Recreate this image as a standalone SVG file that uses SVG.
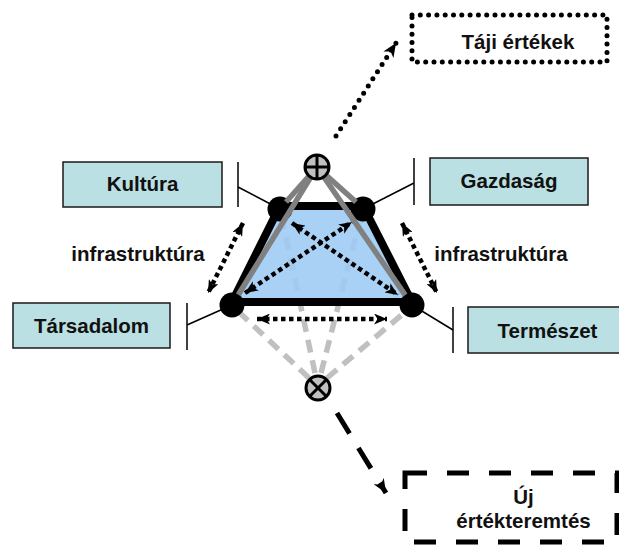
<svg xmlns="http://www.w3.org/2000/svg" width="619" height="547" viewBox="0 0 619 547">
<style>
.lbl{font-family:"Liberation Sans",Arial,sans-serif;font-weight:bold;font-size:20.5px;fill:#111;text-anchor:middle}
.box{fill:#BBE0E3;stroke:#1a1a1a;stroke-width:1.5}
.thin{stroke:#000;stroke-width:1.5;fill:none}
.dot{stroke:#000;stroke-width:4.5;stroke-dasharray:4.5 3.5;fill:none}
.lg{stroke:#C0C0C0;stroke-width:5.5;stroke-dasharray:13 8;fill:none}
.gr{stroke:#808080;stroke-width:5.5;fill:none}
</style>
<defs>
<marker id="ah" viewBox="0 0 13 11" refX="13" refY="5.5" markerWidth="13" markerHeight="11" markerUnits="userSpaceOnUse" orient="auto-start-reverse">
<path d="M0,0 L13,5.5 L0,11 L3.5,5.5 Z" fill="#000"/>
</marker>
<marker id="ah2" viewBox="0 0 14 12" refX="14" refY="6" markerWidth="14" markerHeight="12" markerUnits="userSpaceOnUse" orient="auto">
<path d="M0,0 L14,6 L0,12 L4,6 Z" fill="#000"/>
</marker>
</defs>

<g id="connectors">
<line class="thin" x1="238" y1="162" x2="238" y2="207"/>
<line class="thin" x1="238" y1="187" x2="280" y2="209"/>
<line class="thin" x1="414" y1="158" x2="414" y2="205"/>
<line class="thin" x1="414" y1="183" x2="363" y2="209"/>
<line class="thin" x1="187" y1="303" x2="187" y2="350"/>
<line class="thin" x1="187" y1="325" x2="232" y2="305"/>
<line class="thin" x1="453" y1="307" x2="453" y2="353"/>
<line class="thin" x1="453" y1="330" x2="412" y2="305"/>
<line class="lg" x1="309" y1="378" x2="240" y2="313"/>
<line class="lg" x1="327" y1="378" x2="404" y2="313"/>
<line class="lg" x1="315" y1="373" x2="280" y2="209"/>
<line class="lg" x1="321" y1="373" x2="363" y2="209"/>
</g>

<g id="trapezoid">
<polygon points="280,206 363,206 412,302 232,302" fill="#9DC9F4" fill-opacity="0.88" stroke="#000" stroke-width="8" stroke-linejoin="round"/>
</g>

<g id="inner-arrows">
<line class="dot" x1="245" y1="293" x2="352" y2="222" marker-start="url(#ah)" marker-end="url(#ah)"/>
<line class="dot" x1="292" y1="223" x2="398" y2="295" marker-start="url(#ah)" marker-end="url(#ah)"/>
<line class="dot" x1="243" y1="223" x2="208" y2="293" marker-start="url(#ah)" marker-end="url(#ah)"/>
<line class="dot" x1="402" y1="223" x2="437" y2="293" marker-start="url(#ah)" marker-end="url(#ah)"/>
<line class="dot" x1="257" y1="319" x2="387" y2="319" marker-start="url(#ah)" marker-end="url(#ah)"/>
</g>

<g id="vertices">
<circle cx="280" cy="209" r="12.5" fill="#000"/>
<circle cx="363" cy="209" r="12.5" fill="#000"/>
<circle cx="232" cy="305" r="12.5" fill="#000"/>
<circle cx="412" cy="305" r="12.5" fill="#000"/>
</g>

<g id="grey-lines">
<line class="gr" x1="317" y1="167" x2="238.3" y2="294.8"/>
<line class="gr" x1="317" y1="167" x2="405.2" y2="295.1"/>
<line class="gr" x1="317" y1="167" x2="286" y2="202"/>
<line class="gr" x1="317" y1="167" x2="356" y2="202"/>
</g>

<g id="oplus">
<circle cx="317" cy="167" r="12" fill="#C0C0C0" stroke="#000" stroke-width="3"/>
<line x1="305" y1="167" x2="329" y2="167" stroke="#000" stroke-width="3"/>
<line x1="317" y1="155" x2="317" y2="179" stroke="#000" stroke-width="3"/>
</g>

<g id="otimes">
<circle cx="318" cy="388" r="12" fill="#C0C0C0" stroke="#000" stroke-width="3"/>
<line x1="309.5" y1="379.5" x2="326.5" y2="396.5" stroke="#000" stroke-width="3"/>
<line x1="326.5" y1="379.5" x2="309.5" y2="396.5" stroke="#000" stroke-width="3"/>
</g>

<g id="out-arrows">
<line x1="336" y1="136" x2="396" y2="43" stroke="#000" stroke-width="5" stroke-linecap="round" stroke-dasharray="0 8.5" marker-end="url(#ah2)"/>
<line x1="337" y1="413" x2="386" y2="493" stroke="#000" stroke-width="5" stroke-dasharray="24 17" marker-end="url(#ah2)"/>
</g>

<g id="kultura">
<rect class="box" x="63" y="162" width="159" height="45"/>
<text class="lbl" x="142.5" y="191">Kultúra</text>
</g>
<g id="gazdasag">
<rect class="box" x="430" y="158" width="158" height="47"/>
<text class="lbl" x="509" y="188">Gazdaság</text>
</g>
<g id="tarsadalom">
<rect class="box" x="13" y="303" width="157" height="45"/>
<text class="lbl" x="91.5" y="333">Társadalom</text>
</g>
<g id="termeszet">
<rect class="box" x="468" y="307" width="159" height="46"/>
<text class="lbl" x="547.5" y="338">Természet</text>
</g>

<g id="infra-left">
<text class="lbl" x="138" y="261">infrastruktúra</text>
</g>
<g id="infra-right">
<text class="lbl" x="501" y="261">infrastruktúra</text>
</g>

<g id="taji">
<rect x="412" y="15" width="195" height="47" fill="none" stroke="#000" stroke-width="5" stroke-linecap="round" stroke-dasharray="0 8.3"/>
<text class="lbl" x="518" y="49">Táji értékek</text>
</g>

<g id="uj">
<rect x="405" y="473" width="212" height="69" fill="none" stroke="#000" stroke-width="5" stroke-dasharray="22 20"/>
<text class="lbl" x="523.5" y="504">Új</text>
<text class="lbl" x="523.5" y="528">értékteremtés</text>
</g>
</svg>
